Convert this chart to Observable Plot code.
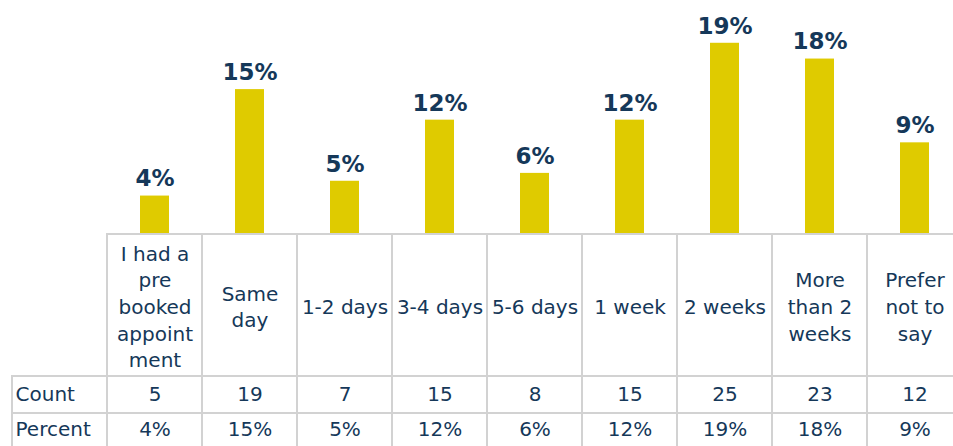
<!DOCTYPE html>
<html><head><meta charset="utf-8">
<script src="https://cdn.jsdelivr.net/npm/d3@7"></script>
<script src="https://cdn.jsdelivr.net/npm/@observablehq/plot@0.6"></script>
<style>
html,body{margin:0;padding:0;background:#fff;}
#wrap{position:relative;width:953px;height:446px;overflow:hidden;}
#wrap > svg{position:absolute;left:0;background:transparent;overflow:visible;}
</style></head><body><div id="wrap"></div>
<script>
// ---- data ----
const categories = ["I had a pre booked appointment","Same day","1-2 days","3-4 days","5-6 days","1 week","2 weeks","More than 2 weeks","Prefer not to say"];
const headerLabels = ["I had a\npre\nbooked\nappoint\nment","Same\nday","1-2 days","3-4 days","5-6 days","1 week","2 weeks","More\nthan 2\nweeks","Prefer\nnot to\nsay"];
const counts = [5,19,7,15,8,15,25,23,12];
const percentLabels = ["4%","15%","5%","12%","6%","12%","19%","18%","9%"];
const barValues = [3.9,14.7,5.4,11.6,6.2,11.6,19.4,17.8,9.3];
const rowLabels = ["Count","Percent"];

// ---- styles ----
const barColor = "#DFCB00";
const textColor = "#153859";
const gridColor = "#D2D2D2";
const font = "'DejaVu Sans', sans-serif";
const W = 953;
const xScale = {type:"band", domain:["", ...categories], range:[10, 963], padding:0};

const bars = categories.map((c,i)=>({cat:c, v:barValues[i], pl:percentLabels[i]}));
const header = categories.map((c,i)=>({cat:c, label:headerLabels[i]}));
const countRow = categories.map((c,i)=>({cat:c, t:String(counts[i])}));
const pctRow = categories.map((c,i)=>({cat:c, t:percentLabels[i]}));
const wrap = document.getElementById("wrap");

function place(svg, top){ svg.style.top = top + "px"; wrap.appendChild(svg); }

// bar chart
place(Plot.plot({
  width:W, height:234, margin:0,
  style:{fontFamily:font, background:"transparent"},
  x:{...xScale, axis:null}, y:{domain:[0,23.74], range:[234,0], axis:null},
  marks:[
    Plot.barY(bars,{x:"cat", y:"v", fill:barColor, insetLeft:33, insetRight:33}),
    Plot.text(bars,{x:"cat", y:"v", text:"pl", dy:-17, fontSize:23, fontWeight:"bold", fill:textColor})
  ]
}), 0);

// header row of table
place(Plot.plot({
  width:W, height:144, marginTop:1, marginBottom:1, marginLeft:0, marginRight:0,
  style:{fontFamily:font, background:"transparent"},
  x:{...xScale, axis:null},
  marks:[
    Plot.cell(header,{x:"cat", fill:"none", stroke:gridColor, strokeWidth:2, inset:0}),
    Plot.text(header,{x:"cat", text:"label", fontSize:20, lineHeight:1.335, fill:textColor})
  ]
}), 233);

function valueRow(rows, label, top, h, dy){
  const all = [{cat:"", t:""}, ...rows];
  place(Plot.plot({
    width:W, height:h, marginTop:1, marginBottom:1, marginLeft:0, marginRight:0,
    style:{fontFamily:font, background:"transparent"},
    x:{...xScale, axis:null},
    marks:[
      Plot.cell(all,{x:"cat", fill:"none", stroke:gridColor, strokeWidth:2, inset:0}),
      Plot.text(rows,{x:"cat", text:"t", fontSize:20, fill:textColor, dy}),
      Plot.text([label],{frameAnchor:"left", textAnchor:"start", dx:15, text:d=>d, fontSize:20, fill:textColor, dy})
    ]
  }), top);
}
valueRow(countRow, rowLabels[0], 375, 39, 0);
valueRow(pctRow, rowLabels[1], 412, 39, -2);
</script></body></html>
